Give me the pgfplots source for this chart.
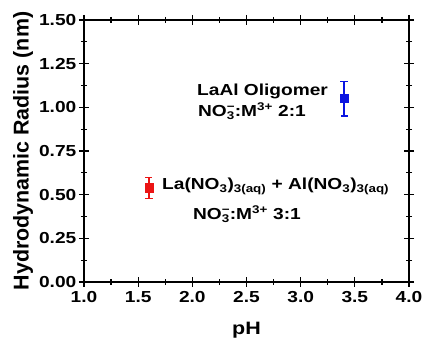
\documentclass[border=0pt]{standalone}
\usepackage{fontspec}
\setmainfont{Liberation Sans}
\newfontfamily\wide{Liberation Sans}[FakeStretch=1.2]
\usepackage{pgfplots}
\pgfplotsset{compat=1.18}
\definecolor{myred}{RGB}{235,20,20}
\definecolor{myblue}{RGB}{10,20,225}
\newcommand{\subsup}[2]{\rlap{\textsuperscript{#2}}\textsubscript{#1}}
\begin{document}
\begin{tikzpicture}
\begin{axis}[
  scale only axis,
  width=325bp, height=262bp,
  xmin=1, xmax=4, ymin=0, ymax=1.5,
  xtick={1,1.5,...,4}, ytick={0,0.25,...,1.5},
  minor x tick num=1, minor y tick num=1,
  tick align=center,
  major tick length=10bp, minor tick length=6bp,
  every tick/.style={black, line width=1.3pt},
  axis line style={line width=1.6pt},
  xticklabel style={anchor=north, inner sep=0pt, yshift=-4bp, /pgf/number format/.cd, fixed, fixed zerofill, precision=1},
  yticklabel style={anchor=east, inner sep=0pt, xshift=-2.5bp, /pgf/number format/.cd, fixed, fixed zerofill, precision=2},
  /pgf/number format/assume math mode=true,
  tick label style={font=\wide\bfseries\fontsize{16}{19}\selectfont},
  xlabel={pH},
  xlabel style={font=\wide\bfseries\fontsize{18}{21}\selectfont, at={(rel axis cs:0.5,0)}, anchor=base, yshift=-52bp},
  clip=false,
]
\addplot[myred, only marks, mark=square*, mark size=4.2bp,
  error bars/.cd, y dir=both, y explicit, error bar style={line width=1.2pt},
  error mark options={rotate=90, mark size=3.5bp, line width=1.2pt}]
  coordinates {(1.6,0.54) +- (0,0.06)};
\addplot[myblue, only marks, mark=square*, mark size=4bp,
  error bars/.cd, y dir=both, y explicit, error bar style={line width=1.2pt},
  error mark options={rotate=90, mark size=3.5bp, line width=1.2pt}]
  coordinates {(3.4,1.05) +- (0,0.10)};
\node[anchor=base west, inner sep=0pt, font=\wide\bfseries\fontsize{16}{19}\selectfont] at (axis cs:2.043,1.065) {LaAl Oligomer};
\node[anchor=base west, inner sep=0pt, font=\wide\bfseries\fontsize{16}{19}\selectfont] at (axis cs:2.052,0.946) {NO\subsup{3}{−}:M\textsuperscript{3+} 2:1};
\node[anchor=base west, inner sep=0pt, font=\wide\bfseries\fontsize{16}{19}\selectfont] at (axis cs:1.72,0.530) {La(NO\textsubscript{3})\textsubscript{3(aq)} + Al(NO\textsubscript{3})\textsubscript{3(aq)}};
\node[anchor=base west, inner sep=0pt, font=\wide\bfseries\fontsize{16}{19}\selectfont] at (axis cs:2.006,0.355) {NO\subsup{3}{−}:M\textsuperscript{3+} 3:1};
\end{axis}
\node[rotate=90, font=\bfseries\fontsize{21.5}{24}\selectfont] at ([xshift=-61bp]current axis.west) {Hydrodynamic Radius (nm)};
\path ([xshift=-84bp,yshift=-58bp]current axis.south west) rectangle ([xshift=14bp,yshift=20bp]current axis.north east);
\end{tikzpicture}
\end{document}
